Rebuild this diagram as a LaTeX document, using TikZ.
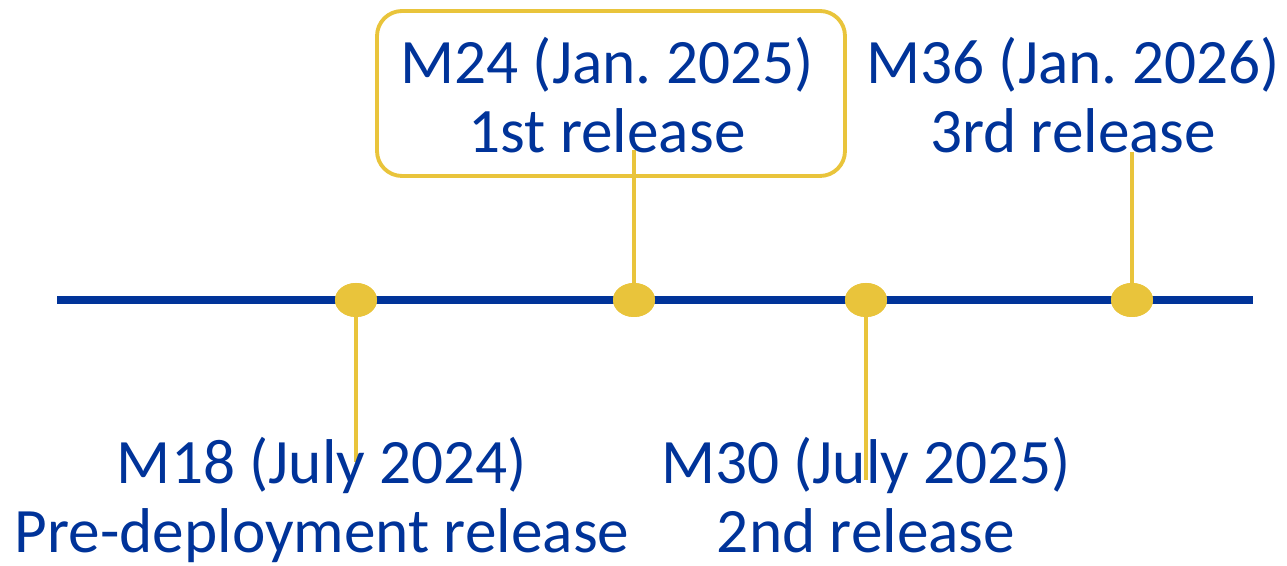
\documentclass[tikz,border=0pt]{standalone}
\usepackage{fontspec}
\setmainfont{Carlito}
\usetikzlibrary{positioning, shapes.geometric}
\definecolor{tlblue}{HTML}{003399}
\definecolor{tlyellow}{HTML}{E9C43B}
\frenchspacing
\begin{document}
\begin{tikzpicture}[
        milestone/.style={ellipse,fill=tlyellow,minimum width=0.42cm,minimum height=0.34cm,inner sep=0pt},
        stick/.style={tlyellow,line width=1.15pt},
        tag/.style={align=center,text=tlblue,font=\fontsize{18}{19.9}\selectfont,anchor=base,inner sep=0pt}
    ]
    \useasboundingbox (0,0) rectangle (12.87,5.66);
    % timeline
    \coordinate (start) at (0.57,2.66);
    \coordinate (end) at (12.53,2.66);
    \draw[tlblue,line width=2pt] (start)--(end);
    % box round the first release
    \node[draw=tlyellow,line width=1.1pt,rounded corners=0.25cm,minimum width=4.68cm,minimum height=1.65cm] (box) at (6.11,4.725) {};
    % sticks
    \coordinate (t18) at (3.56,1.04);
    \coordinate (t24) at (6.34,4.16);
    \coordinate (t30) at (8.66,0.86);
    \coordinate (t36) at (11.32,4.14);
    \foreach \m/\x in {18/3.56,24/6.34,30/8.66,36/11.32}{
        \node[milestone] (m\m) at (\x,2.66) {};
    }
    \foreach \m in {18,24,30,36}{
        \draw[stick] (m\m.center)--(t\m);
    }
    \foreach \m in {18,24,30,36}{
        \node[milestone] at (m\m) {};
    }
    % labels (base = last line)
    \node[tag] (l24) at (6.07,4.13) {M24 (Jan. 2025)\\1st release};
    \node[tag] (l36) at (10.73,4.13) {M36 (Jan. 2026)\\3rd release};
    \node[tag] (l18) at (3.22,0.13) {M18 (July 2024)\\Pre-deployment release};
    \node[tag] (l30) at (8.66,0.13) {M30 (July 2025)\\2nd release};
\end{tikzpicture}
\end{document}
